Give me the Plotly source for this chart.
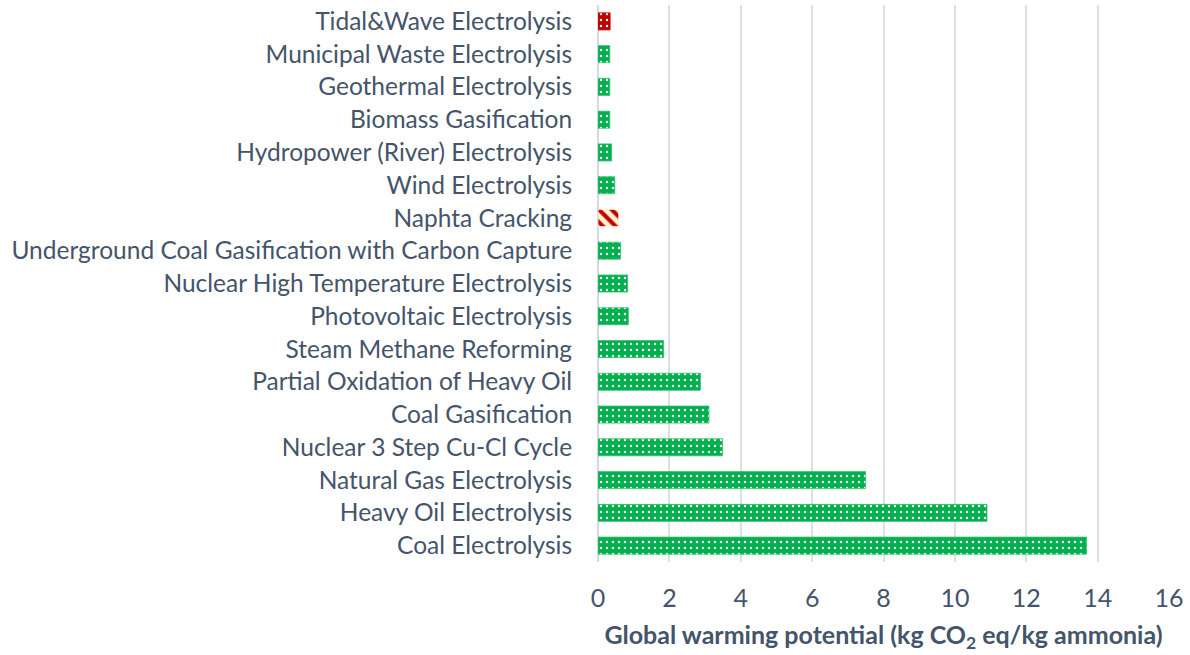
import plotly.graph_objects as go

categories = [
    "Tidal&Wave Electrolysis",
    "Municipal Waste Electrolysis",
    "Geothermal Electrolysis",
    "Biomass Gasification",
    "Hydropower (River) Electrolysis",
    "Wind Electrolysis",
    "Naphta Cracking",
    "Underground Coal Gasification with Carbon Capture",
    "Nuclear High Temperature Electrolysis",
    "Photovoltaic Electrolysis",
    "Steam Methane Reforming",
    "Partial Oxidation of Heavy Oil",
    "Coal Gasification",
    "Nuclear 3 Step Cu-Cl Cycle",
    "Natural Gas Electrolysis",
    "Heavy Oil Electrolysis",
    "Coal Electrolysis",
]
gwp = [0.34, 0.33, 0.33, 0.33, 0.38, 0.47, 0.58, 0.63, 0.83, 0.85,
       1.84, 2.87, 3.11, 3.49, 7.5, 10.9, 13.69]

x_ticks = [0, 2, 4, 6, 8, 10, 12, 14, 16]

red_dotted = ["Tidal&Wave Electrolysis"]
red_striped = ["Naphta Cracking"]

GREEN = "#00B050"
RED = "#C00000"
CREAM = "#FFF2CC"
DOT = "#FFF7E8"

FONT = "Lato"
TXT = "#44546A"

groups = [
    ([c for c in categories if c not in red_dotted + red_striped], ".", DOT, GREEN, "#2FC070"),
    (red_dotted, ".", DOT, RED, RED),
    (red_striped, "\\", RED, CREAM, CREAM),
]

fig = go.Figure()
for cats, shape, fgc, bgc, lc in groups:
    xs = [gwp[categories.index(c)] for c in cats]
    fig.add_trace(go.Bar(
        x=xs, y=cats, orientation="h",
        marker=dict(
            color=bgc,
            line=dict(color=lc, width=0.8),
            pattern=dict(shape=shape, fgcolor=fgc, bgcolor=bgc,
                         size=6 if shape == "." else 9,
                         solidity=0.13 if shape == "." else 0.45,
                         fillmode="replace"),
        ),
        width=0.52,
        hoverinfo="x+y",
    ))

fig.update_layout(
    width=1190, height=655,
    margin=dict(l=598, r=21, t=5, b=93),
    paper_bgcolor="white", plot_bgcolor="white",
    font=dict(family=FONT, color=TXT, size=24),
    showlegend=False,
    barmode="overlay",
    xaxis=dict(
        range=[0, 16], tickvals=x_ticks, ticktext=[str(v) for v in x_ticks],
        showgrid=True, gridcolor="#DCE0E5", gridwidth=1.5,
        zeroline=True, zerolinecolor="#D5DAE0", zerolinewidth=2,
        showline=False,
        ticks="outside", ticklen=14, tickcolor="rgba(0,0,0,0)",
        tickfont=dict(family=FONT, color=TXT, size=25),
        title=dict(text="<b>Global warming potential (kg CO<sub>2</sub> eq/kg ammonia)</b>",
                   font=dict(family=FONT, color=TXT, size=25), standoff=15),
        fixedrange=True,
    ),
    yaxis=dict(
        categoryorder="array", categoryarray=categories,
        autorange="reversed", showgrid=False, showline=False, zeroline=False,
        ticks="outside", ticklen=20, tickcolor="rgba(0,0,0,0)",
        tickfont=dict(family=FONT, color=TXT, size=24.5),
        automargin=False,
    ),
)

fig.write_html("out.html")
